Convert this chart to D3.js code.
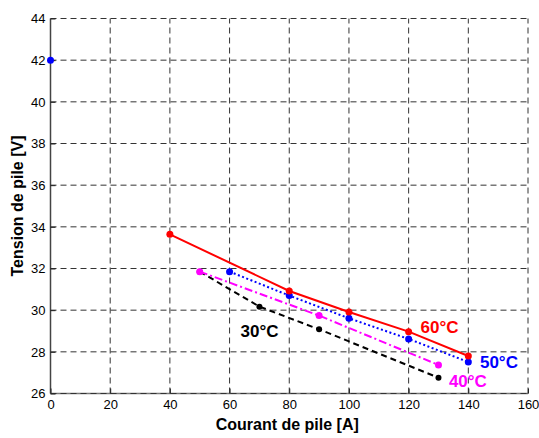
<!DOCTYPE html>
<html>
<head>
<meta charset="utf-8">
<script src="https://cdn.jsdelivr.net/npm/d3@7"></script>
<style>
  html, body { margin: 0; padding: 0; background: #fff; }
  svg { display: block; font-family: "Liberation Sans", Arial, sans-serif; }
</style>
</head>
<body>
<svg id="chart" width="539" height="438"></svg>
<script>
// Stack voltage vs. current at four operating temperatures
const xTicks = [0, 20, 40, 60, 80, 100, 120, 140, 160];
const yTicks = [26, 28, 30, 32, 34, 36, 38, 40, 42, 44];

const current60 = [40, 80, 100, 120, 140];
const voltage60 = [33.64, 30.92, 29.91, 28.97, 27.80];

const current50 = [60, 80, 100, 120, 140];
const voltage50 = [31.85, 30.70, 29.61, 28.62, 27.51];

const current40 = [50, 90, 130];
const voltage40 = [31.85, 29.74, 27.37];

const current30 = [50, 70, 90, 130];
const voltage30 = [31.85, 30.17, 29.08, 26.76];

// lone measured point
const isolatedPoint = [0, 42];

const seriesLabels = ["60°C", "50°C", "40°C", "30°C"];
const labelValues = [[124, 28.9], [143.9, 27.22], [133.5, 26.3], [63.7, 28.73]];

const margin = { left: 50.5, right: 11, top: 18.5, bottom: 44.5 };
const W = 539, H = 438;
const svg = d3.select("#chart");

const x = d3.scaleLinear().domain([0, 160]).range([margin.left, W - margin.right]);
const y = d3.scaleLinear().domain([26, 44]).range([H - margin.bottom, margin.top]);

// axis lines (left and bottom only)
svg.append("line")
  .attr("x1", x(0)).attr("x2", x(0)).attr("y1", y(26)).attr("y2", y(44))
  .attr("stroke", "#444").attr("stroke-width", 1.5);
svg.append("line")
  .attr("x1", x(0)).attr("x2", x(160)).attr("y1", y(26)).attr("y2", y(26))
  .attr("stroke", "#777").attr("stroke-width", 1.5);

// dashed grid
const grid = svg.append("g").attr("stroke", "#333").attr("stroke-width", 1)
  .attr("stroke-dasharray", "6,4");
grid.selectAll(".gx").data(xTicks.slice(1)).join("line")
  .attr("x1", d => x(d)).attr("x2", d => x(d))
  .attr("y1", y(26)).attr("y2", y(44));
grid.selectAll(".gy").data(yTicks).join("line")
  .attr("x1", x(0)).attr("x2", x(160))
  .attr("y1", d => y(d)).attr("y2", d => y(d));

// inward ticks
const xAxis = d3.axisBottom(x).tickValues(xTicks).tickSize(-5).tickPadding(6);
const gx = svg.append("g").attr("transform", `translate(0,${y(26)})`).call(xAxis);
gx.select(".domain").remove();
gx.selectAll("line").attr("stroke", "#222");
gx.selectAll("text").attr("font-size", 13).attr("fill", "#000")
  .attr("font-family", "Liberation Sans, Arial, sans-serif");

const yAxis = d3.axisLeft(y).tickValues(yTicks).tickSize(-5).tickPadding(5);
const gy = svg.append("g").attr("transform", `translate(${x(0)},0)`).call(yAxis);
gy.select(".domain").remove();
gy.selectAll("line").attr("stroke", "#222");
gy.selectAll("text").attr("font-size", 13).attr("fill", "#000")
  .attr("font-family", "Liberation Sans, Arial, sans-serif");

// series
const series = [
  { xs: current60, ys: voltage60, color: "#ff0000", dash: null, r: 3.5 },
  { xs: current50, ys: voltage50, color: "#0000ff", dash: "2,2.5", r: 3.5 },
  { xs: current40, ys: voltage40, color: "#ff00ff", dash: "8,3,2,3", r: 3.5 },
  { xs: current30, ys: voltage30, color: "#000000", dash: "6,4", r: 3 }
];
const line = d3.line().x(d => x(d[0])).y(d => y(d[1]));

// draw back to front so the warmest curve sits on top
[3, 2, 1, 0].forEach(i => {
  const s = series[i];
  const pts = s.xs.map((v, k) => [v, s.ys[k]]);
  svg.append("path").datum(pts)
    .attr("d", line).attr("fill", "none")
    .attr("stroke", s.color).attr("stroke-width", 2)
    .attr("stroke-dasharray", s.dash);
  svg.append("g").selectAll("circle").data(pts).join("circle")
    .attr("cx", d => x(d[0])).attr("cy", d => y(d[1]))
    .attr("r", s.r).attr("fill", s.color);
});

svg.append("circle")
  .attr("cx", x(isolatedPoint[0])).attr("cy", y(isolatedPoint[1]))
  .attr("r", 3.5).attr("fill", "#0000ff");

// temperature labels
seriesLabels.forEach((t, i) => {
  svg.append("text")
    .attr("x", x(labelValues[i][0])).attr("y", y(labelValues[i][1]))
    .attr("fill", series[i].color)
    .attr("font-size", 17).attr("font-weight", "bold")
    .text(t);
});

// axis titles
svg.append("text")
  .attr("x", (x(0) + x(160)) / 2 - 2).attr("y", 430)
  .attr("text-anchor", "middle").attr("font-size", 16).attr("font-weight", "bold")
  .text("Courant de pile [A]");
svg.append("text")
  .attr("transform", `translate(23,${(y(26) + y(44)) / 2}) rotate(-90)`)
  .attr("text-anchor", "middle").attr("font-size", 16).attr("font-weight", "bold")
  .text("Tension de pile [V]");
</script>
</body>
</html>
